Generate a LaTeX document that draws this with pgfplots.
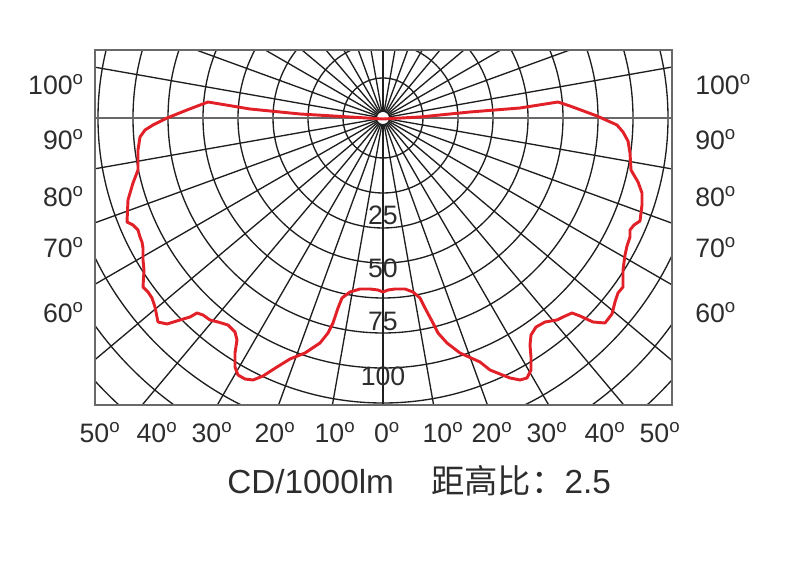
\documentclass[border=0pt]{standalone}
\usepackage{fontspec}
\setmainfont{Liberation Sans}
\newfontfamily\cjk{Noto Sans CJK SC}
\usepackage{pgfplots}
\pgfplotsset{compat=1.18}
\definecolor{curvered}{RGB}{226,32,40}
\definecolor{gridgray}{RGB}{30,30,30}
\definecolor{framegray}{RGB}{105,105,105}
\definecolor{textgray}{RGB}{45,45,45}
\newcommand{\dg}{\textsuperscript{o}}
\newcommand{\lab}{\fontsize{20}{23}\selectfont}

\begin{document}
\begin{tikzpicture}
% pixel frame of the reference: (0,0) top left, 800 x 570
\begin{scope}[shift={(-71.25pt,303.75pt)}, x=0.75pt, y=-0.75pt]
  \useasboundingbox (0,0) rectangle (800,570);
  \begin{scope}
    \clip (95,50) rectangle (672,405);
    \foreach \r in {40,75,...,460}
      \draw[gridgray, line width=1pt] (383,118) circle (\r);
    \foreach \a in {10,20,...,170,190,200,...,350}
      \draw[gridgray, line width=1pt] (383,118) ++(\a:6) -- ++(\a:600);
    \draw[framegray, line width=1.4pt] (95,118) -- (377,118) (389,118) -- (672,118);
  \end{scope}
  \begin{scope}[textgray]
  % side labels
  \foreach \t/\yy in {100/95, 90/150, 80/207, 70/258, 60/323} {
    \node[anchor=base east, inner sep=0pt] at (84,\yy) {\lab\t\dg};
    \node[anchor=base west, inner sep=0pt] at (695,\yy) {\lab\t\dg};
  }
  % bottom labels
  \foreach \t/\xx in {50/100, 40/157, 30/212, 20/275, 10/335, 0/387,
                      10/443, 20/492, 30/547, 40/605, 50/660}
    \node[anchor=base, inner sep=0pt] at (\xx,443) {\lab\t\dg};
  % intensity labels
  \foreach \t/\yy in {25/225, 50/278, 75/331, 100/386}
    \node[anchor=base, inner sep=0pt] at (383,\yy) {\lab\t};
  \node[anchor=base west, inner sep=0pt] at (227,494)
    {\fontsize{25}{29}\selectfont CD/1000lm\hspace{28pt}{\cjk 距高比：}2.5};
  \end{scope}
\end{scope}

\begin{axis}[
  at={(0,0)}, anchor=south west,
  x=0.75pt, y=0.75pt,
  xmin=-288, xmax=289, ymin=-287, ymax=68,
  axis line style={framegray, line width=1.4pt},
  xtick=\empty, ytick=\empty,
]
\addplot[curvered, line width=2.2pt, line join=round] coordinates {
  (0,-1) (-33,1) (-83,4) (-133,9) (-175,16) (-196,8) (-216,0) (-230,-7)
  (-238,-12) (-243,-19) (-245,-32) (-245,-52) (-250,-65) (-255,-82)
  (-256,-104) (-250,-107) (-245,-112) (-243,-119) (-241,-124) (-240,-130)
  (-240,-142) (-239,-152) (-240,-169) (-235,-174) (-231,-180) (-228,-189)
  (-225,-204) (-216,-206) (-203,-202) (-193,-199) (-186,-195) (-180,-197)
  (-173,-202) (-165,-204) (-155,-207) (-148,-214) (-146,-222) (-148,-235)
  (-148,-249) (-145,-257) (-138,-261) (-130,-262) (-120,-258) (-106,-249)
  (-93,-241) (-78,-235) (-63,-225) (-55,-215) (-50,-205) (-45,-190)
  (-41,-180) (-33,-174) (-23,-171) (-13,-171) (-5,-172) (0,-174)
  (5,-172) (12,-171) (22,-171) (30,-174) (37,-180) (42,-190) (50,-205)
  (55,-215) (64,-225) (77,-235) (97,-244) (107,-252) (117,-256) (127,-260)
  (137,-262) (144,-260) (148,-252) (148,-239) (147,-227) (148,-217)
  (153,-209) (162,-204) (174,-202) (180,-199) (189,-195) (197,-198)
  (210,-204) (222,-205) (229,-196) (232,-184) (235,-175) (240,-169)
  (240,-152) (242,-137) (244,-128) (247,-119) (247,-112) (251,-107)
  (257,-103) (259,-87) (259,-75) (255,-64) (248,-52) (247,-35) (245,-23)
  (240,-14) (234,-7) (214,2) (187,12) (175,16) (137,10) (87,6) (37,1)
  (0,-1)
};
\end{axis}
\end{tikzpicture}
\end{document}
